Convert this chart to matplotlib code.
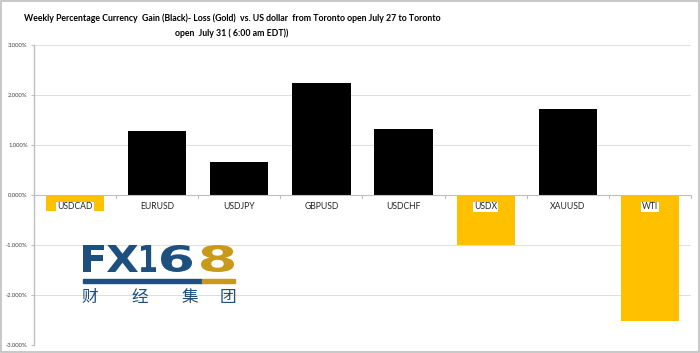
import matplotlib
matplotlib.use("Agg")
import matplotlib.pyplot as plt
from matplotlib.patches import Rectangle, PathPatch
from matplotlib.textpath import TextPath
from matplotlib.font_manager import FontProperties
from matplotlib.transforms import Affine2D, IdentityTransform
import matplotlib.ticker as mticker

categories = ["USDCAD", "EURUSD", "USDJPY", "GBPUSD", "USDCHF", "USDX", "XAUUSD", "WTI"]
values = [-0.32, 1.28, 0.66, 2.25, 1.33, -1.00, 1.72, -2.52]
yticks = [-3, -2, -1, 0, 1, 2, 3]

BLACK = "#000000"
GOLD = "#FFC000"

plt.rcParams['font.family'] = ['Lato', 'Noto Sans CJK SC', 'DejaVu Sans']

W, H = 700, 353
fig = plt.figure(figsize=(7.0, 3.53), dpi=100)
ax = fig.add_axes([0.0486, 0.0227, 0.9385, 0.8498])

x = list(range(len(categories)))
colors = [BLACK if v >= 0 else GOLD for v in values]
ax.bar(x, values, width=0.71, color=colors, zorder=3)

ax.set_xlim(-0.5, len(categories) - 0.5)
ax.set_ylim(-3, 3)
ax.set_yticks(yticks)
ax.yaxis.set_major_formatter(mticker.FuncFormatter(lambda v, p: f"{v:.3f}%"))
ax.tick_params(axis='y', labelsize=4.2, length=2.5, color="#bfbfbf", pad=2, labelcolor="#404040")
ax.grid(axis='y', color="#d9d9d9", linewidth=0.6, zorder=0)
ax.set_xticks([])

for s in ["top", "right", "bottom"]:
    ax.spines[s].set_visible(False)
ax.spines["left"].set_color("#bfbfbf")
ax.spines["left"].set_linewidth(1.0)

ax.axhline(0, color="#bfbfbf", linewidth=0.8, zorder=4)
for b in range(len(categories) + 1):
    ax.plot([b - 0.5, b - 0.5], [0, -0.06], color="#bfbfbf", linewidth=0.8, zorder=4, clip_on=False)

for xi, c in zip(x, categories):
    ax.text(xi, -0.24, c, ha='center', va='center', fontsize=6.2, color="#262626", zorder=5,
            bbox=dict(facecolor='white', edgecolor='none', pad=0.6))

fig.text(232 / W, 1 - 18 / H, "Weekly Percentage Currency  Gain (Black)- Loss (Gold)  vs. US dollar  from Toronto open July 27 to Toronto",
         ha='center', va='center', fontsize=6.3, fontweight='bold', color="#000000")
fig.text(232 / W, 1 - 33 / H, "open  July 31 ( 6:00 am EDT))",
         ha='center', va='center', fontsize=6.3, fontweight='bold', color="#000000")

# logo (drawn in pixel coordinates, y measured from top)
BLUE = "#1d4f7f"
LGOLD = "#c99a1a"
fp = FontProperties(family='DejaVu Sans', weight='bold')


def glyph(ch, x0, x1, ytop, ybot, color, prop):
    tp = TextPath((0, 0), ch, size=1, prop=prop)
    ext = tp.get_extents()
    sx = (x1 - x0) / ext.width
    sy = (ybot - ytop) / ext.height
    tr = Affine2D().translate(-ext.x0, -ext.y0).scale(sx, sy).translate(x0, H - ybot)
    fig.add_artist(PathPatch(tr.transform_path(tp), facecolor=color, edgecolor='none',
                             transform=IdentityTransform()))


logo_chars = ["F", "X", "1", "6", "8"]
logo_x0 = [83, 107, 141, 161, 201]
logo_x1 = [104, 138, 156, 192, 234]
logo_col = [BLUE, BLUE, BLUE, BLUE, LGOLD]
for ch, a, b, col in zip(logo_chars, logo_x0, logo_x1, logo_col):
    glyph(ch, a, b, 245, 272, col, fp)

fig.add_artist(Rectangle((83 / W, 1 - 283 / H), (202 - 83) / W, 4 / H, transform=fig.transFigure, color=BLUE))
fig.add_artist(Rectangle((202 / W, 1 - 283 / H), (235 - 202) / W, 4 / H, transform=fig.transFigure, color=LGOLD))
for ch, cx in zip(["财", "经", "集", "团"], [90, 140, 190, 228]):
    fig.text(cx / W, 1 - 297.5 / H, ch, ha='center', va='center', fontsize=12, color=BLUE,
             family=['Noto Sans CJK SC', 'DejaVu Sans'])

fig.add_artist(Rectangle((0.002, 0.003), 0.996, 0.994, transform=fig.transFigure, fill=False,
                         edgecolor="#bfbfbf", linewidth=1.2))

fig.savefig("out.png", dpi=100, facecolor="white")
